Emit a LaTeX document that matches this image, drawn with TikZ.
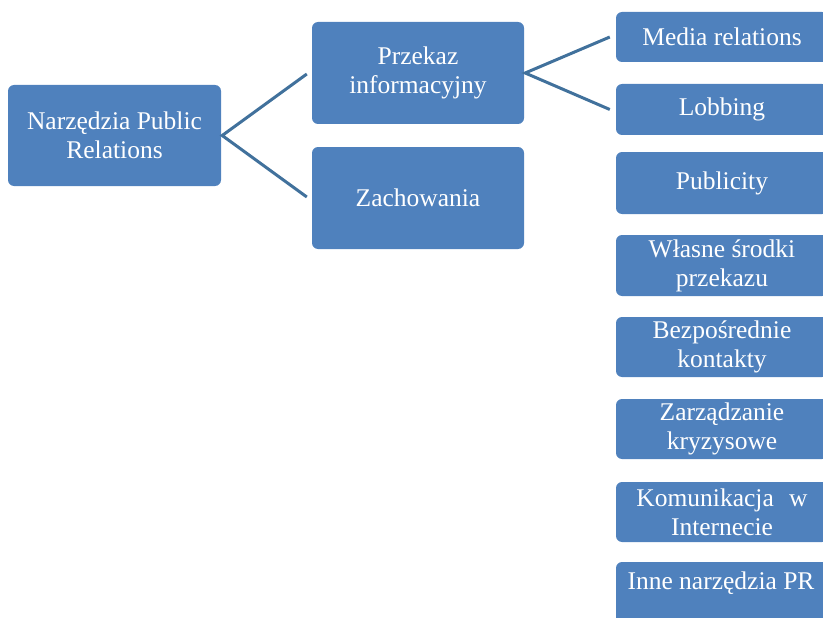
\documentclass[tikz,border=0pt]{standalone}
\usepackage{fontspec}
\setmainfont{Liberation Serif}
\definecolor{boxblue}{HTML}{4F81BD}
\definecolor{linkblue}{HTML}{41719C}
\tikzset{
  labelfont/.style={font=\fontsize{25.5}{29}\selectfont},
  box/.style={draw=none, fill=boxblue, rounded corners=6pt, text=white,
    align=center, inner sep=0pt, labelfont},
  bigbox/.style={box, minimum width=212pt, minimum height=102pt},
  leaf/.style={box, minimum width=212pt},
  link/.style={draw=linkblue, line width=3pt}
}
\begin{document}
\begin{tikzpicture}[x=1pt, y=-1pt]
  \useasboundingbox (0,0) rectangle (823,618);
  \clip (0,0) rectangle (823,618);

  % first and second level
  \node[bigbox, minimum width=213pt, minimum height=101pt] (root) at (114.5,135.5) {Narzędzia Public\\Relations};
  \node[bigbox] (info) at (418,73) {Przekaz\\informacyjny};
  \node[bigbox] (behav) at (418,198) {Zachowania};

  % third level column
  \node[leaf, minimum height=50pt] (media) at (722,37) {Media relations};
  \node[leaf, minimum height=51pt] (lobby) at (722,109.5) {Lobbing};
  \node[leaf, minimum height=62pt] (publ) at (722,183) {Publicity};
  \node[leaf, minimum height=61pt] (own) at (722,265.5) {Własne środki\\przekazu};
  \node[leaf, minimum height=60pt] (direct) at (722,347) {Bezpośrednie\\kontakty};
  \node[leaf, minimum height=60pt] (crisis) at (722,429) {Zarządzanie\\kryzysowe};
  \node[leaf, minimum height=60pt] (web) at (722,512) {Komunikacja\hspace{0.6em}w\\Internecie};
  \node[leaf, minimum height=80pt] (other) at (722,602) {};
  \node[text=white, labelfont, inner sep=0pt] (othertext) at (721,583) {Inne narzędzia PR};

  % connectors
  \coordinate (rootj) at ([xshift=1pt]root.east);
  \coordinate (infoj) at ([xshift=1pt]info.east);
  \draw[link] ([xshift=-5pt,yshift=-1pt]info.west) -- (rootj) -- ([xshift=-5pt,yshift=1pt]behav.west);
  \draw[link] ([xshift=-6pt]media.west) -- (infoj) -- ([xshift=-6pt]lobby.west);
\end{tikzpicture}
\end{document}
